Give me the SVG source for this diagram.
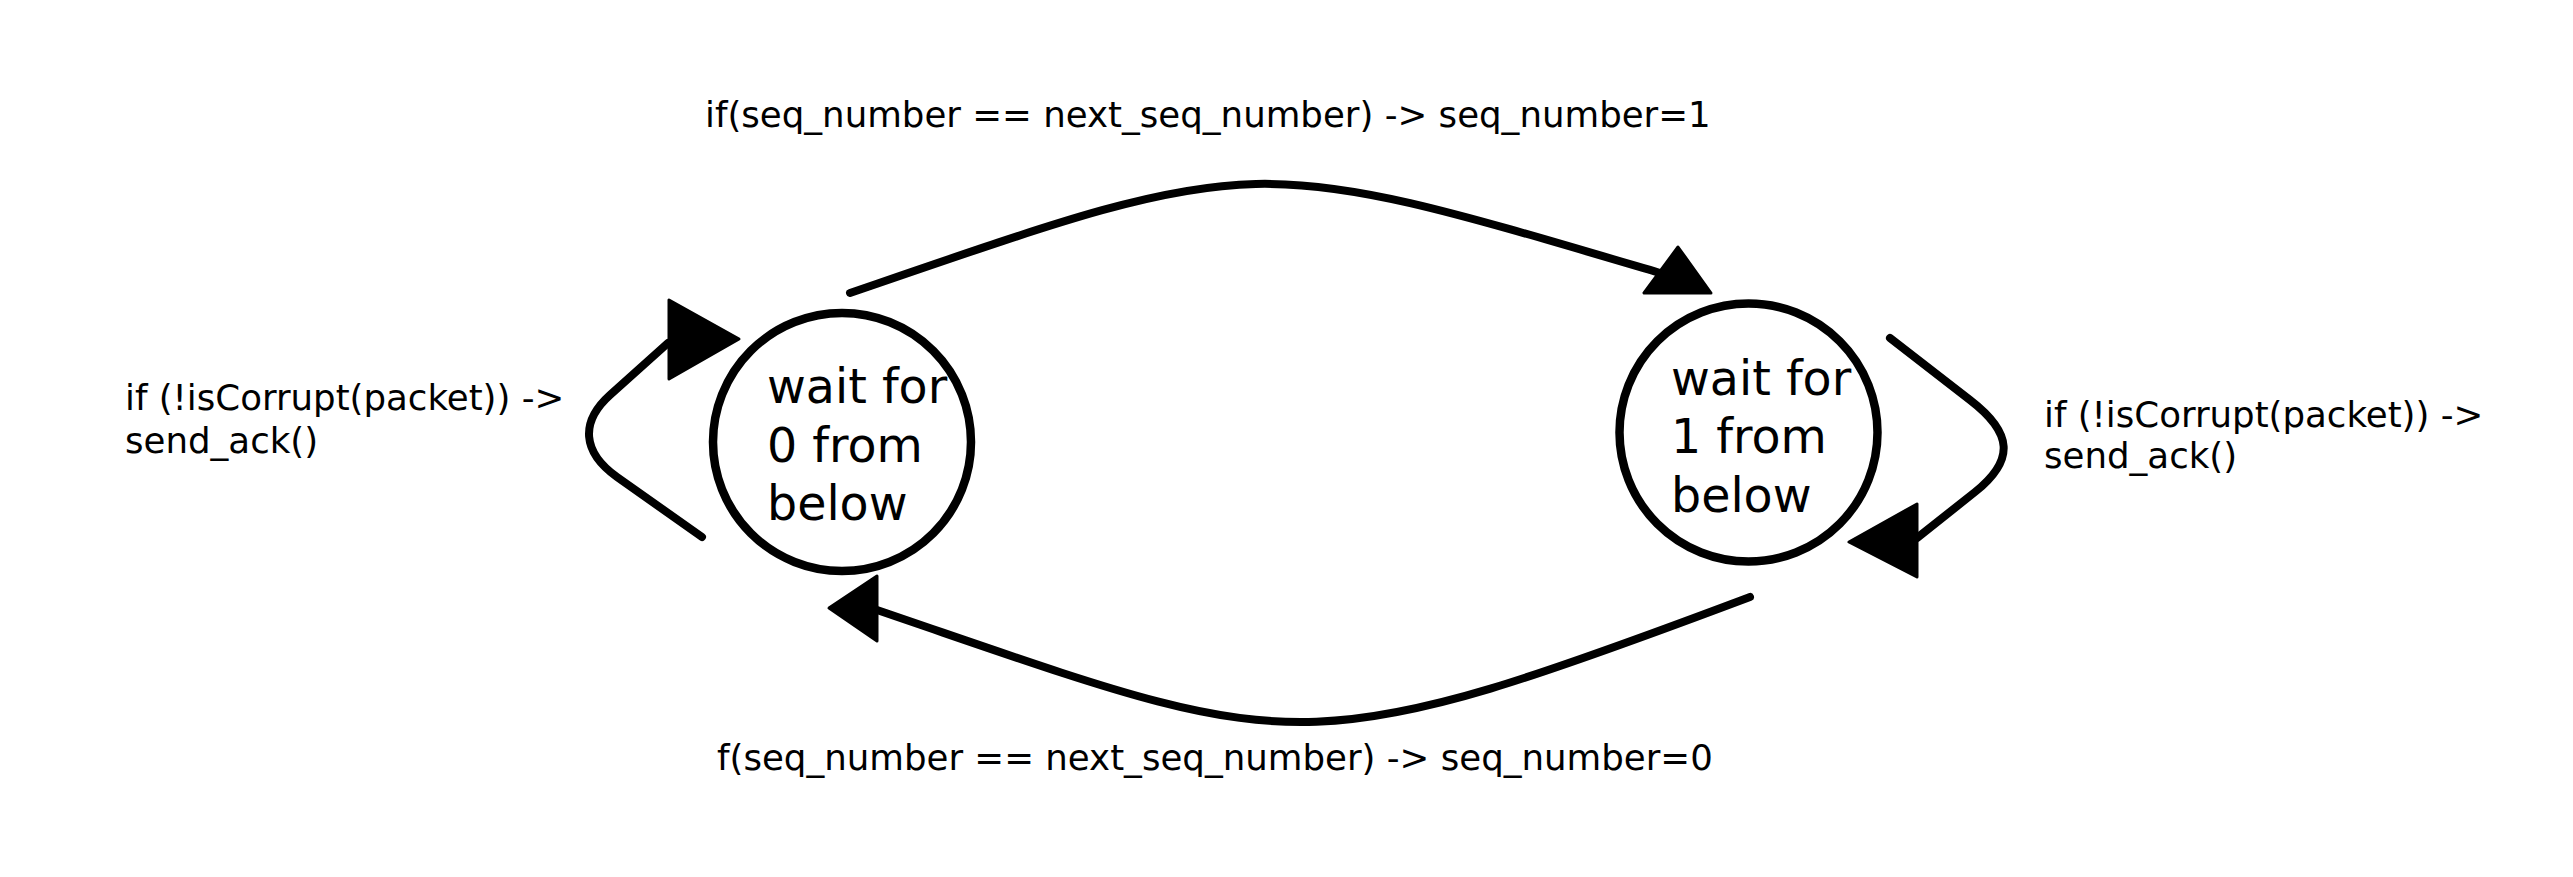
<svg xmlns="http://www.w3.org/2000/svg" width="2573" height="877" viewBox="0 0 2573 877">
<style>
.bg{fill:#ffffff}
.state{fill:#ffffff;stroke:#000000;stroke-width:8.5}
.stext{font-family:"DejaVu Sans","Verdana",sans-serif;font-size:47.5px;fill:#000000}
.lbl{font-family:"DejaVu Sans","Verdana",sans-serif;font-size:35.6px;fill:#000000}
.edge{fill:none;stroke:#000000;stroke-width:8;stroke-linecap:round;stroke-linejoin:round}
.head{fill:#000000;stroke:#000000;stroke-width:3;stroke-linejoin:round}
</style>
<rect class="bg" x="0" y="0" width="2573" height="877"/>
<g id="connectors">
  <path id="e-0-1" class="edge" d="M850,293 C1264,151 1246,151 1660,273"/>
  <polygon class="head" points="1678,247 1644,293 1711,293"/>
  <path id="e-1-0" class="edge" d="M1750,597 C1290,770 1297,753 877,610"/>
  <polygon class="head" points="829,608 877,576 877,641"/>
  <path id="e-0-0" class="edge" d="M702,537 L617,477 C582,452 580,422 610,395 L668,343"/>
  <polygon class="head" points="739,339 669,300 669,379"/>
  <path id="e-1-1" class="edge" d="M1890,338 L1970,400 C2013,433 2015,460 1975,492 L1917,538"/>
  <polygon class="head" points="1849,542 1917,504 1917,577"/>
</g>
<g id="node-wait0">
  <circle class="state" cx="842" cy="442" r="129"/>
  <text class="stext" x="767" y="403">wait for</text>
  <text class="stext" x="767" y="462">0 from</text>
  <text class="stext" x="767" y="520">below</text>
</g>
<g id="node-wait1">
  <circle class="state" cx="1748.5" cy="432.5" r="129"/>
  <text class="stext" x="1671" y="395">wait for</text>
  <text class="stext" x="1671" y="453">1 from</text>
  <text class="stext" x="1671" y="512">below</text>
</g>
<g id="labels">
  <text class="lbl" x="705" y="127">if(seq_number == next_seq_number) -&gt; seq_number=1</text>
  <text class="lbl" x="717" y="770">f(seq_number == next_seq_number) -&gt; seq_number=0</text>
  <text class="lbl" x="125" y="410">if (!isCorrupt(packet)) -&gt;</text>
  <text class="lbl" x="125" y="453">send_ack()</text>
  <text class="lbl" x="2044" y="427">if (!isCorrupt(packet)) -&gt;</text>
  <text class="lbl" x="2044" y="468">send_ack()</text>
</g>
</svg>
